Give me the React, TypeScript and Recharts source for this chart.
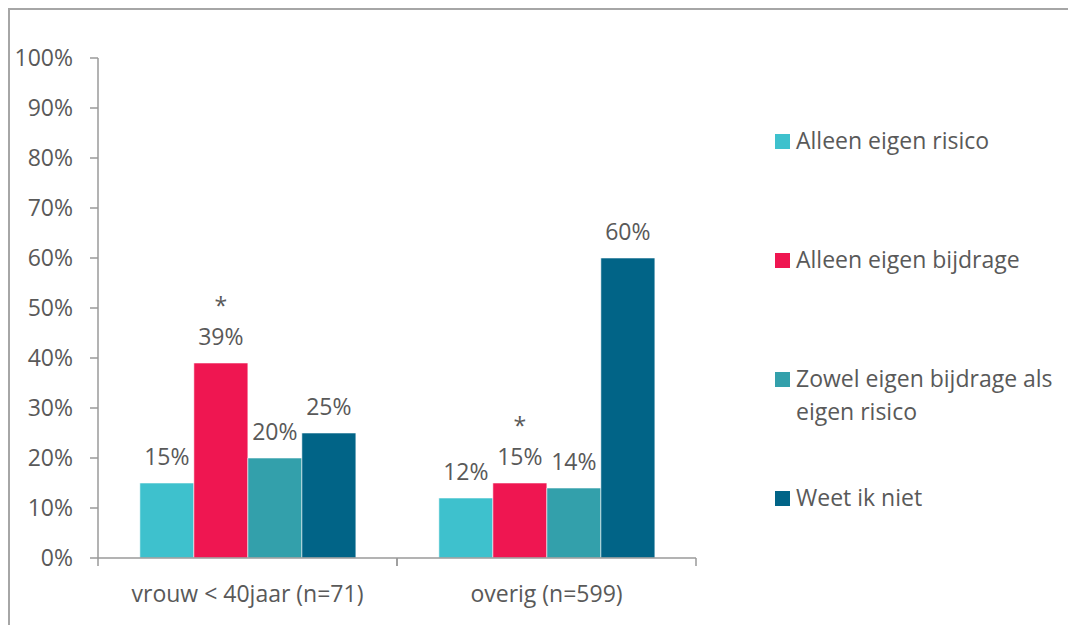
import React from "react";
import { BarChart, Bar, XAxis, YAxis, Legend, LabelList } from "recharts";

const categories = ["vrouw < 40jaar (n=71)", "overig (n=599)"];
const seriesNames = [
  "Alleen eigen risico",
  "Alleen eigen bijdrage",
  "Zowel eigen bijdrage als eigen risico",
  "Weet ik niet",
];
const alleenRisico = [0.15, 0.12];
const alleenBijdrage = [0.39, 0.15];
const zowel = [0.2, 0.14];
const weetNiet = [0.25, 0.6];
const significant = ["*", "*"];
const yTicks = [0, 0.1, 0.2, 0.3, 0.4, 0.5, 0.6, 0.7, 0.8, 0.9, 1];

const colors = ["#3EC1CD", "#EF1651", "#33A0AB", "#016487"];
const keys = ["risico", "bijdrage", "zowel", "weet"];

const data = categories.map((name, i) => ({
  name,
  risico: alleenRisico[i],
  bijdrage: alleenBijdrage[i],
  zowel: zowel[i],
  weet: weetNiet[i],
  sig: significant[i],
}));

const W = 1076;
const H = 633;
const margin = { top: 58, right: 380, left: 0, bottom: 0 };
const Y_W = 98;
const X_H = 75;
const FONT = "'Open Sans', sans-serif";
const TEXT = "#595959";
const AXIS = "#9a9a9a";
const halfBand = (W - Y_W - margin.right - margin.left) / categories.length / 2;

const pct = (v: number) => `${Math.round(v * 100)}%`;

function ValueLabel(props: any) {
  const { x, y, width, value } = props;
  return (
    <text x={x + width / 2} y={y - 18} textAnchor="middle" fill={TEXT} fontSize={23} fontFamily={FONT}>
      {pct(value)}
    </text>
  );
}

function SigLabel(props: any) {
  const { x, y, width, index, value } = props;
  const mark = significant[index];
  return (
    <g>
      <text x={x + width / 2} y={y - 18} textAnchor="middle" fill={TEXT} fontSize={23} fontFamily={FONT}>
        {pct(value)}
      </text>
      {mark && (
        <text x={x + width / 2} y={y - 49} textAnchor="middle" fill={TEXT} fontSize={23} fontFamily={FONT}>
          {mark}
        </text>
      )}
    </g>
  );
}

function CategoryTick(props: any) {
  const { x, y, payload } = props;
  return (
    <g>
      <line x1={x - halfBand} x2={x - halfBand} y1={y} y2={y + 8} stroke={AXIS} strokeWidth={1.5} />
      <line x1={x + halfBand} x2={x + halfBand} y1={y} y2={y + 8} stroke={AXIS} strokeWidth={1.5} />
      <text x={x} y={y + 44} textAnchor="middle" fill={TEXT} fontSize={23} fontFamily={FONT}>
        {payload.value}
      </text>
    </g>
  );
}

function LegendBox() {
  return (
    <div style={{ position: "relative", width: 300, height: 420, fontFamily: FONT }}>
      {seriesNames.map((name, i) => (
        <div
          key={name}
          style={{ position: "absolute", left: 0, top: i * 119, display: "flex", alignItems: "flex-start" }}
        >
          <div style={{ width: 15, height: 15, marginTop: 10, background: colors[i], flexShrink: 0 }} />
          <div style={{ marginLeft: 6, width: 275, fontSize: 23, lineHeight: "33px", color: TEXT }}>{name}</div>
        </div>
      ))}
    </div>
  );
}

export default function App() {
  return (
    <div style={{ position: "relative", margin: -8, width: W, height: H, background: "#fff", overflow: "hidden" }}>
      <div
        style={{
          position: "absolute",
          left: 8,
          top: 8,
          width: W,
          height: H,
          borderLeft: "2px solid #a6a6a6",
          borderTop: "2px solid #a6a6a6",
        }}
      />
      <BarChart width={W} height={H} data={data} margin={margin} barCategoryGap="14%" barGap={0}>
        <XAxis
          dataKey="name"
          height={X_H}
          tickLine={false}
          tickSize={0}
          tickMargin={0}
          axisLine={{ stroke: AXIS, strokeWidth: 1.5 }}
          tick={<CategoryTick />}
          interval={0}
        />
        <YAxis
          width={Y_W}
          domain={[0, 1]}
          ticks={yTicks}
          tickFormatter={pct}
          tickSize={8}
          tickMargin={17}
          axisLine={{ stroke: AXIS, strokeWidth: 1.5 }}
          tickLine={{ stroke: AXIS, strokeWidth: 1.5 }}
          tick={{ fill: TEXT, fontSize: 23, fontFamily: FONT }}
        />
        <Legend
          layout="vertical"
          align="center"
          verticalAlign="middle"
          content={<LegendBox />}
          wrapperStyle={{ position: "absolute", left: 775, top: 124, width: 300 }}
        />
        {keys.map((k, i) => (
          <Bar
            key={k}
            dataKey={k}
            name={seriesNames[i]}
            fill={colors[i]}
            stroke="rgba(255,255,255,0.55)"
            strokeWidth={1}
            isAnimationActive={false}
          >
            <LabelList dataKey={k} content={k === "bijdrage" ? <SigLabel /> : <ValueLabel />} />
          </Bar>
        ))}
      </BarChart>
    </div>
  );
}
